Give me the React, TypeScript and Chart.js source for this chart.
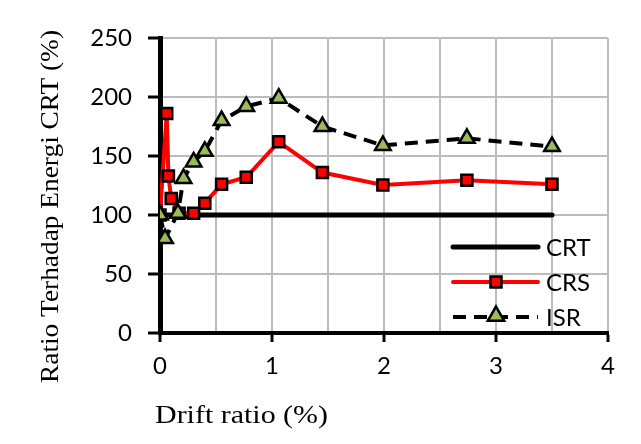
import React, { useEffect, useRef } from 'react';
import { Chart, registerables } from 'chart.js';

Chart.register(...registerables);

// ---- Data ----
const crtX = [0, 0.06, 0.075, 0.1, 0.17, 0.3, 0.4, 0.55, 0.77, 1.06, 1.45, 1.99, 2.74, 3.5];
const crtY = [100, 100, 100, 100, 100, 100, 100, 100, 100, 100, 100, 100, 100, 100];

const crsX = [0, 0.06, 0.075, 0.1, 0.17, 0.3, 0.4, 0.55, 0.77, 1.06, 1.45, 1.99, 2.74, 3.5];
const crsY = [100, 186, 133, 114, 101.5, 101.5, 110, 126, 132, 162, 136, 125.5, 129.5, 126];

const isrX = [0, 0.045, 0.16, 0.21, 0.3, 0.4, 0.55, 0.77, 1.06, 1.45, 1.99, 2.74, 3.5];
const isrY = [100, 80, 101.5, 131, 145, 154, 180, 192, 199, 175, 159, 165, 158];

const seriesNames = ['CRT', 'CRS', 'ISR'];
const xTitle = 'Drift ratio (%)';
const yTitle = 'Ratio Terhadap Energi CRT (%)';
const xTickValues = [0, 1, 2, 3, 4];
const yTickValues = [0, 50, 100, 150, 200, 250];

const GRID = '#bcbcbc';
const RED = '#ff0000';
const OLIVE = '#9bbb59';
const TICK_FONT = 'Lato';
const TITLE_FONT = 'Liberation Serif';

const toPts = (xs: number[], ys: number[]) => xs.map((x, i) => ({ x, y: ys[i] }));

function drawStretched(ctx: CanvasRenderingContext2D, text: string, cx: number, cy: number, target: number, rot: number) {
  ctx.save();
  ctx.translate(cx, cy);
  ctx.rotate(rot);
  const w = ctx.measureText(text).width;
  ctx.scale(target / w, 1);
  ctx.textAlign = 'center';
  ctx.textBaseline = 'alphabetic';
  ctx.fillText(text, 0, 0);
  ctx.restore();
}

function square(ctx: CanvasRenderingContext2D, x: number, y: number, s: number) {
  ctx.beginPath();
  ctx.rect(x - s / 2, y - s / 2, s, s);
  ctx.fillStyle = RED;
  ctx.fill();
  ctx.lineWidth = 2.5;
  ctx.strokeStyle = '#000';
  ctx.stroke();
}

function triangle(ctx: CanvasRenderingContext2D, x: number, y: number, r: number) {
  ctx.beginPath();
  ctx.moveTo(x, y - r);
  ctx.lineTo(x + 0.866 * r, y + 0.5 * r);
  ctx.lineTo(x - 0.866 * r, y + 0.5 * r);
  ctx.closePath();
  ctx.fillStyle = OLIVE;
  ctx.fill();
  ctx.lineWidth = 2.5;
  ctx.strokeStyle = '#000';
  ctx.lineJoin = 'miter';
  ctx.stroke();
}

const overlayPlugin = {
  id: 'overlay',
  afterDraw(chart: any) {
    const ctx: CanvasRenderingContext2D = chart.ctx;
    ctx.save();
    ctx.fillStyle = '#000';
    ctx.font = `26px "${TITLE_FONT}"`;
    drawStretched(ctx, xTitle, 241.5, 423, 173, 0);
    drawStretched(ctx, yTitle, 58, 206.5, 353, -Math.PI / 2);

    // legend
    const lx0 = 453, lx1 = 538, mx = 496;
    const rows = [247, 282, 317];
    // CRT
    ctx.beginPath();
    ctx.moveTo(lx0, rows[0]);
    ctx.lineTo(lx1, rows[0]);
    ctx.lineWidth = 5;
    ctx.lineCap = 'round';
    ctx.strokeStyle = '#000';
    ctx.stroke();
    // CRS
    ctx.beginPath();
    ctx.moveTo(lx0, rows[1]);
    ctx.lineTo(lx1, rows[1]);
    ctx.lineWidth = 4;
    ctx.lineCap = 'round';
    ctx.strokeStyle = RED;
    ctx.stroke();
    ctx.lineCap = 'butt';
    square(ctx, mx, rows[1], 11);
    // ISR
    ctx.beginPath();
    ctx.setLineDash([13, 8]);
    ctx.moveTo(lx0, rows[2]);
    ctx.lineTo(lx1, rows[2]);
    ctx.lineWidth = 4;
    ctx.strokeStyle = '#000';
    ctx.stroke();
    ctx.setLineDash([]);
    triangle(ctx, mx, rows[2] - 1, 9.5);

    ctx.fillStyle = '#000';
    ctx.font = `24px "${TICK_FONT}"`;
    ctx.textAlign = 'left';
    ctx.textBaseline = 'middle';
    seriesNames.forEach((n, i) => ctx.fillText(n, 546, rows[i] + 1));
    ctx.restore();
  },
};

export default function App() {
  const ref = useRef<HTMLCanvasElement | null>(null);

  useEffect(() => {
    document.body.style.margin = '0';
    const canvas = ref.current;
    if (!canvas) return;
    const chart = new Chart(canvas, {
      type: 'line',
      data: {
        datasets: [
          {
            label: seriesNames[0],
            data: toPts(crtX, crtY),
            borderColor: '#000',
            borderWidth: 5,
            borderCapStyle: 'round',
            pointRadius: 0,
            tension: 0,
            order: 3,
          },
          {
            label: seriesNames[1],
            data: toPts(crsX, crsY),
            borderColor: RED,
            borderWidth: 4,
            pointStyle: 'rect',
            pointRadius: 7.8,
            pointBackgroundColor: RED,
            pointBorderColor: '#000',
            pointBorderWidth: 2.5,
            tension: 0,
            order: 2,
          },
          {
            label: seriesNames[2],
            data: toPts(isrX, isrY),
            borderColor: '#000',
            borderWidth: 4,
            borderDash: [13, 8],
            pointStyle: 'triangle',
            pointRadius: 9,
            pointBackgroundColor: OLIVE,
            pointBorderColor: '#000',
            pointBorderWidth: 2.5,
            tension: 0,
            order: 1,
          },
        ] as any,
      },
      options: {
        animation: false,
        responsive: true,
        maintainAspectRatio: false,
        layout: { padding: { left: 0, right: 33, top: 38, bottom: 0 } },
        plugins: { legend: { display: false }, tooltip: { enabled: false } },
        scales: {
          x: {
            type: 'linear',
            min: 0,
            max: 4,
            afterFit: (s: any) => { s.height = 111; },
            afterBuildTicks: (s: any) => {
              const t: any[] = [];
              for (let v = 0; v <= 8; v++) t.push({ value: v / 2 });
              s.ticks = t;
            },
            ticks: {
              autoSkip: false,
              maxRotation: 0,
              padding: 10,
              color: '#000',
              font: { family: TICK_FONT, size: 24 },
              callback: (v: any) => (xTickValues.includes(Number(v)) ? String(v) : ''),
            },
            grid: {
              color: (c: any) => (c.tick && c.tick.value === 0 ? 'rgba(0,0,0,0)' : GRID),
              lineWidth: 2,
              tickLength: 9,
              tickWidth: 3,
              tickColor: (c: any) => (c.tick && Number.isInteger(c.tick.value) ? '#000' : 'rgba(0,0,0,0)'),
            },
            border: { color: '#000', width: 4 },
          },
          y: {
            type: 'linear',
            min: 0,
            max: 250,
            afterFit: (s: any) => { s.width = 160; },
            afterBuildTicks: (s: any) => {
              s.ticks = yTickValues.map((v) => ({ value: v }));
            },
            ticks: {
              padding: 16,
              color: '#000',
              font: { family: TICK_FONT, size: 24 },
            },
            grid: {
              color: (c: any) => (c.tick && c.tick.value === 0 ? 'rgba(0,0,0,0)' : GRID),
              lineWidth: 2,
              tickLength: 12,
              tickWidth: 3,
              tickColor: '#000',
            },
            border: { color: '#000', width: 5 },
          },
        },
      } as any,
      plugins: [overlayPlugin],
    });
    return () => chart.destroy();
  }, []);

  return (
    <div style={{ position: 'fixed', left: 0, top: 0, width: 641, height: 444, background: '#fff' }}>
      <canvas ref={ref} />
    </div>
  );
}
